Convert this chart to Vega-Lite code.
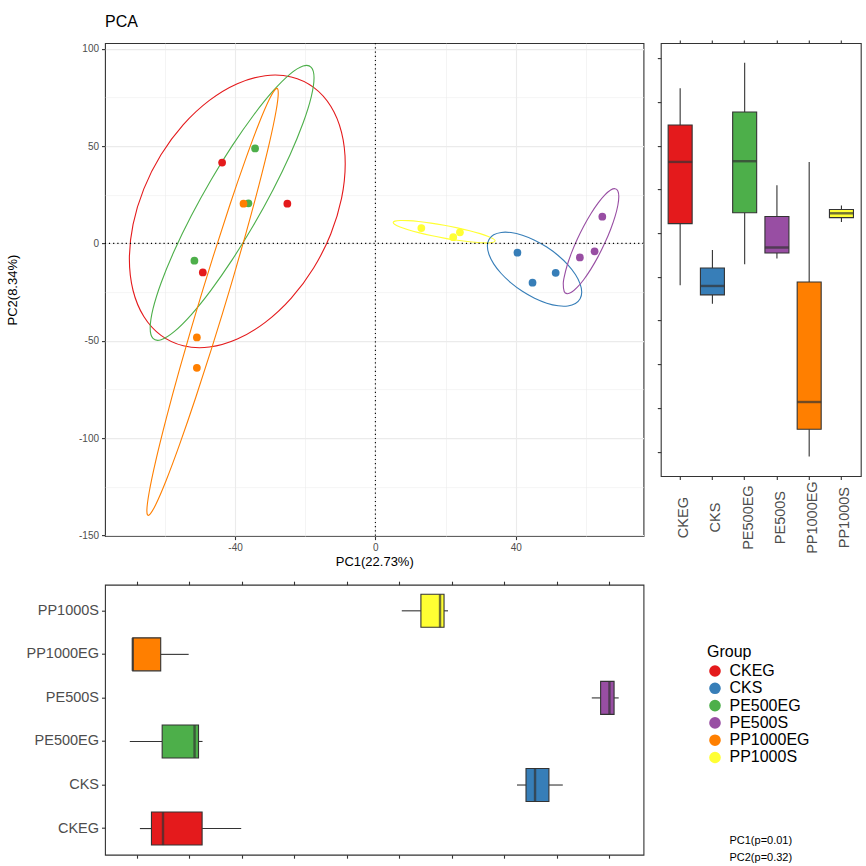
{
  "$schema": "https://vega.github.io/schema/vega-lite/v6.json",
  "padding": {"left": 5, "top": 13.1, "right": 5, "bottom": 5},
  "config": {
    "font": "Liberation Sans",
    "view": {"stroke": "#333333", "strokeWidth": 1.1},
    "axis": {"domain": false, "grid": false, "tickColor": "#333333", "tickWidth": 1.1, "labelColor": "#4D4D4D", "labelFont": "Liberation Sans", "titleColor": "black", "titleFontWeight": "normal", "titleFont": "Liberation Sans", "labelOverlap": false, "labelFlush": false},
    "title": {"font": "Liberation Sans"}
  },
  "datasets": {
    "points": [
      {"Group": "CKEG", "PC1": -43.7, "PC2": 41.5},
      {"Group": "CKEG", "PC1": -25.1, "PC2": 20.4},
      {"Group": "CKEG", "PC1": -49.2, "PC2": -14.9},
      {"Group": "CKS", "PC1": 40.5, "PC2": -4.8},
      {"Group": "CKS", "PC1": 44.8, "PC2": -20.2},
      {"Group": "CKS", "PC1": 51.4, "PC2": -15.1},
      {"Group": "PE500EG", "PC1": -34.3, "PC2": 48.8},
      {"Group": "PE500EG", "PC1": -36.2, "PC2": 20.6},
      {"Group": "PE500EG", "PC1": -51.6, "PC2": -8.9},
      {"Group": "PE500S", "PC1": 58.3, "PC2": -7.2},
      {"Group": "PE500S", "PC1": 62.5, "PC2": -4.1},
      {"Group": "PE500S", "PC1": 64.7, "PC2": 13.7},
      {"Group": "PP1000EG", "PC1": -37.6, "PC2": 20.4},
      {"Group": "PP1000EG", "PC1": -50.9, "PC2": -48.3},
      {"Group": "PP1000EG", "PC1": -50.9, "PC2": -63.9},
      {"Group": "PP1000S", "PC1": 13.1, "PC2": 7.9},
      {"Group": "PP1000S", "PC1": 22.2, "PC2": 3.2},
      {"Group": "PP1000S", "PC1": 24.1, "PC2": 5.7}
    ],
    "ellipses": [
      {"Group": "CKEG", "k": 0, "PC1": -8.6, "PC2": 40.94},
      {"Group": "CKEG", "k": 1, "PC1": -9.65, "PC2": 23.12},
      {"Group": "CKEG", "k": 2, "PC1": -12.72, "PC2": 4.86},
      {"Group": "CKEG", "k": 3, "PC1": -17.61, "PC2": -12.63},
      {"Group": "CKEG", "k": 4, "PC1": -23.98, "PC2": -28.12},
      {"Group": "CKEG", "k": 5, "PC1": -31.41, "PC2": -40.58},
      {"Group": "CKEG", "k": 6, "PC1": -39.37, "PC2": -49.16},
      {"Group": "CKEG", "k": 7, "PC1": -47.33, "PC2": -53.26},
      {"Group": "CKEG", "k": 8, "PC1": -54.76, "PC2": -52.62},
      {"Group": "CKEG", "k": 9, "PC1": -61.13, "PC2": -47.27},
      {"Group": "CKEG", "k": 10, "PC1": -66.02, "PC2": -37.58},
      {"Group": "CKEG", "k": 11, "PC1": -69.09, "PC2": -24.2},
      {"Group": "CKEG", "k": 12, "PC1": -70.14, "PC2": -8.06},
      {"Group": "CKEG", "k": 13, "PC1": -69.09, "PC2": 9.76},
      {"Group": "CKEG", "k": 14, "PC1": -66.02, "PC2": 28.02},
      {"Group": "CKEG", "k": 15, "PC1": -61.13, "PC2": 45.51},
      {"Group": "CKEG", "k": 16, "PC1": -54.76, "PC2": 61.0},
      {"Group": "CKEG", "k": 17, "PC1": -47.33, "PC2": 73.46},
      {"Group": "CKEG", "k": 18, "PC1": -39.37, "PC2": 82.04},
      {"Group": "CKEG", "k": 19, "PC1": -31.41, "PC2": 86.14},
      {"Group": "CKEG", "k": 20, "PC1": -23.98, "PC2": 85.5},
      {"Group": "CKEG", "k": 21, "PC1": -17.61, "PC2": 80.15},
      {"Group": "CKEG", "k": 22, "PC1": -12.72, "PC2": 70.46},
      {"Group": "CKEG", "k": 23, "PC1": -9.65, "PC2": 57.08},
      {"Group": "PE500EG", "k": 0, "PC1": -17.49, "PC2": 85.06},
      {"Group": "PE500EG", "k": 1, "PC1": -18.29, "PC2": 75.29},
      {"Group": "PE500EG", "k": 2, "PC1": -20.62, "PC2": 61.81},
      {"Group": "PE500EG", "k": 3, "PC1": -24.33, "PC2": 45.54},
      {"Group": "PE500EG", "k": 4, "PC1": -29.17, "PC2": 27.57},
      {"Group": "PE500EG", "k": 5, "PC1": -34.8, "PC2": 9.15},
      {"Group": "PE500EG", "k": 6, "PC1": -40.85, "PC2": -8.48},
      {"Group": "PE500EG", "k": 7, "PC1": -46.9, "PC2": -24.11},
      {"Group": "PE500EG", "k": 8, "PC1": -52.53, "PC2": -36.69},
      {"Group": "PE500EG", "k": 9, "PC1": -57.37, "PC2": -45.34},
      {"Group": "PE500EG", "k": 10, "PC1": -61.08, "PC2": -49.49},
      {"Group": "PE500EG", "k": 11, "PC1": -63.41, "PC2": -48.85},
      {"Group": "PE500EG", "k": 12, "PC1": -64.21, "PC2": -43.46},
      {"Group": "PE500EG", "k": 13, "PC1": -63.41, "PC2": -33.69},
      {"Group": "PE500EG", "k": 14, "PC1": -61.08, "PC2": -20.21},
      {"Group": "PE500EG", "k": 15, "PC1": -57.37, "PC2": -3.94},
      {"Group": "PE500EG", "k": 16, "PC1": -52.53, "PC2": 14.03},
      {"Group": "PE500EG", "k": 17, "PC1": -46.9, "PC2": 32.45},
      {"Group": "PE500EG", "k": 18, "PC1": -40.85, "PC2": 50.08},
      {"Group": "PE500EG", "k": 19, "PC1": -34.8, "PC2": 65.71},
      {"Group": "PE500EG", "k": 20, "PC1": -29.17, "PC2": 78.29},
      {"Group": "PE500EG", "k": 21, "PC1": -24.33, "PC2": 86.94},
      {"Group": "PE500EG", "k": 22, "PC1": -20.62, "PC2": 91.09},
      {"Group": "PE500EG", "k": 23, "PC1": -18.29, "PC2": 90.45},
      {"Group": "PP1000EG", "k": 0, "PC1": -27.69, "PC2": 77.31},
      {"Group": "PP1000EG", "k": 1, "PC1": -28.33, "PC2": 67.86},
      {"Group": "PP1000EG", "k": 2, "PC1": -30.2, "PC2": 51.73},
      {"Group": "PP1000EG", "k": 3, "PC1": -33.18, "PC2": 30.04},
      {"Group": "PP1000EG", "k": 4, "PC1": -37.05, "PC2": 4.26},
      {"Group": "PP1000EG", "k": 5, "PC1": -41.57, "PC2": -23.88},
      {"Group": "PP1000EG", "k": 6, "PC1": -46.42, "PC2": -52.42},
      {"Group": "PP1000EG", "k": 7, "PC1": -51.27, "PC2": -79.44},
      {"Group": "PP1000EG", "k": 8, "PC1": -55.79, "PC2": -103.1},
      {"Group": "PP1000EG", "k": 9, "PC1": -59.66, "PC2": -121.78},
      {"Group": "PP1000EG", "k": 10, "PC1": -62.64, "PC2": -134.21},
      {"Group": "PP1000EG", "k": 11, "PC1": -64.51, "PC2": -139.54},
      {"Group": "PP1000EG", "k": 12, "PC1": -65.15, "PC2": -137.41},
      {"Group": "PP1000EG", "k": 13, "PC1": -64.51, "PC2": -127.96},
      {"Group": "PP1000EG", "k": 14, "PC1": -62.64, "PC2": -111.83},
      {"Group": "PP1000EG", "k": 15, "PC1": -59.66, "PC2": -90.14},
      {"Group": "PP1000EG", "k": 16, "PC1": -55.79, "PC2": -64.36},
      {"Group": "PP1000EG", "k": 17, "PC1": -51.27, "PC2": -36.22},
      {"Group": "PP1000EG", "k": 18, "PC1": -46.42, "PC2": -7.68},
      {"Group": "PP1000EG", "k": 19, "PC1": -41.57, "PC2": 19.34},
      {"Group": "PP1000EG", "k": 20, "PC1": -37.05, "PC2": 43.0},
      {"Group": "PP1000EG", "k": 21, "PC1": -33.18, "PC2": 61.68},
      {"Group": "PP1000EG", "k": 22, "PC1": -30.2, "PC2": 74.11},
      {"Group": "PP1000EG", "k": 23, "PC1": -28.33, "PC2": 79.44},
      {"Group": "PP1000S", "k": 0, "PC1": 34.13, "PC2": 1.29},
      {"Group": "PP1000S", "k": 1, "PC1": 33.63, "PC2": 0.6},
      {"Group": "PP1000S", "k": 2, "PC1": 32.18, "PC2": 0.28},
      {"Group": "PP1000S", "k": 3, "PC1": 29.87, "PC2": 0.35},
      {"Group": "PP1000S", "k": 4, "PC1": 26.87, "PC2": 0.8},
      {"Group": "PP1000S", "k": 5, "PC1": 23.36, "PC2": 1.61},
      {"Group": "PP1000S", "k": 6, "PC1": 19.6, "PC2": 2.72},
      {"Group": "PP1000S", "k": 7, "PC1": 15.84, "PC2": 4.05},
      {"Group": "PP1000S", "k": 8, "PC1": 12.33, "PC2": 5.52},
      {"Group": "PP1000S", "k": 9, "PC1": 9.33, "PC2": 7.02},
      {"Group": "PP1000S", "k": 10, "PC1": 7.02, "PC2": 8.45},
      {"Group": "PP1000S", "k": 11, "PC1": 5.57, "PC2": 9.72},
      {"Group": "PP1000S", "k": 12, "PC1": 5.07, "PC2": 10.73},
      {"Group": "PP1000S", "k": 13, "PC1": 5.57, "PC2": 11.42},
      {"Group": "PP1000S", "k": 14, "PC1": 7.02, "PC2": 11.74},
      {"Group": "PP1000S", "k": 15, "PC1": 9.33, "PC2": 11.67},
      {"Group": "PP1000S", "k": 16, "PC1": 12.33, "PC2": 11.22},
      {"Group": "PP1000S", "k": 17, "PC1": 15.84, "PC2": 10.41},
      {"Group": "PP1000S", "k": 18, "PC1": 19.6, "PC2": 9.3},
      {"Group": "PP1000S", "k": 19, "PC1": 23.36, "PC2": 7.97},
      {"Group": "PP1000S", "k": 20, "PC1": 26.87, "PC2": 6.5},
      {"Group": "PP1000S", "k": 21, "PC1": 29.87, "PC2": 5.0},
      {"Group": "PP1000S", "k": 22, "PC1": 32.18, "PC2": 3.57},
      {"Group": "PP1000S", "k": 23, "PC1": 33.63, "PC2": 2.3},
      {"Group": "CKS", "k": 0, "PC1": 58.83, "PC2": -25.03},
      {"Group": "CKS", "k": 1, "PC1": 58.37, "PC2": -28.49},
      {"Group": "CKS", "k": 2, "PC1": 57.03, "PC2": -30.91},
      {"Group": "CKS", "k": 3, "PC1": 54.89, "PC2": -32.13},
      {"Group": "CKS", "k": 4, "PC1": 52.11, "PC2": -32.06},
      {"Group": "CKS", "k": 5, "PC1": 48.86, "PC2": -30.71},
      {"Group": "CKS", "k": 6, "PC1": 45.38, "PC2": -28.17},
      {"Group": "CKS", "k": 7, "PC1": 41.9, "PC2": -24.61},
      {"Group": "CKS", "k": 8, "PC1": 38.65, "PC2": -20.28},
      {"Group": "CKS", "k": 9, "PC1": 35.87, "PC2": -15.47},
      {"Group": "CKS", "k": 10, "PC1": 33.73, "PC2": -10.51},
      {"Group": "CKS", "k": 11, "PC1": 32.39, "PC2": -5.73},
      {"Group": "CKS", "k": 12, "PC1": 31.93, "PC2": -1.47},
      {"Group": "CKS", "k": 13, "PC1": 32.39, "PC2": 1.99},
      {"Group": "CKS", "k": 14, "PC1": 33.73, "PC2": 4.41},
      {"Group": "CKS", "k": 15, "PC1": 35.87, "PC2": 5.63},
      {"Group": "CKS", "k": 16, "PC1": 38.65, "PC2": 5.56},
      {"Group": "CKS", "k": 17, "PC1": 41.9, "PC2": 4.21},
      {"Group": "CKS", "k": 18, "PC1": 45.38, "PC2": 1.67},
      {"Group": "CKS", "k": 19, "PC1": 48.86, "PC2": -1.89},
      {"Group": "CKS", "k": 20, "PC1": 52.11, "PC2": -6.22},
      {"Group": "CKS", "k": 21, "PC1": 54.89, "PC2": -11.03},
      {"Group": "CKS", "k": 22, "PC1": 57.03, "PC2": -15.99},
      {"Group": "CKS", "k": 23, "PC1": 58.37, "PC2": -20.77},
      {"Group": "PE500S", "k": 0, "PC1": 69.4, "PC2": 24.05},
      {"Group": "PE500S", "k": 1, "PC1": 69.13, "PC2": 19.59},
      {"Group": "PE500S", "k": 2, "PC1": 68.34, "PC2": 13.87},
      {"Group": "PE500S", "k": 3, "PC1": 67.08, "PC2": 7.29},
      {"Group": "PE500S", "k": 4, "PC1": 65.44, "PC2": 0.28},
      {"Group": "PE500S", "k": 5, "PC1": 63.53, "PC2": -6.67},
      {"Group": "PE500S", "k": 6, "PC1": 61.48, "PC2": -13.08},
      {"Group": "PE500S", "k": 7, "PC1": 59.43, "PC2": -18.53},
      {"Group": "PE500S", "k": 8, "PC1": 57.52, "PC2": -22.64},
      {"Group": "PE500S", "k": 9, "PC1": 55.88, "PC2": -25.13},
      {"Group": "PE500S", "k": 10, "PC1": 54.62, "PC2": -25.83},
      {"Group": "PE500S", "k": 11, "PC1": 53.83, "PC2": -24.69},
      {"Group": "PE500S", "k": 12, "PC1": 53.56, "PC2": -20.66},
      {"Group": "PE500S", "k": 13, "PC1": 53.83, "PC2": -17.33},
      {"Group": "PE500S", "k": 14, "PC1": 54.62, "PC2": -11.61},
      {"Group": "PE500S", "k": 15, "PC1": 55.88, "PC2": -5.03},
      {"Group": "PE500S", "k": 16, "PC1": 57.52, "PC2": 1.98},
      {"Group": "PE500S", "k": 17, "PC1": 59.43, "PC2": 8.93},
      {"Group": "PE500S", "k": 18, "PC1": 61.48, "PC2": 15.34},
      {"Group": "PE500S", "k": 19, "PC1": 63.53, "PC2": 20.79},
      {"Group": "PE500S", "k": 20, "PC1": 65.44, "PC2": 24.9},
      {"Group": "PE500S", "k": 21, "PC1": 67.08, "PC2": 27.39},
      {"Group": "PE500S", "k": 22, "PC1": 68.34, "PC2": 28.09},
      {"Group": "PE500S", "k": 23, "PC1": 69.13, "PC2": 26.95}
    ]
  },
  "columns": 2,
  "spacing": {"row": 48.6, "column": 16.8},
  "bounds": "flush",
  "align": "each",
  "resolve": {"legend": {"color": "independent"}},
  "concat": [
    {
      "width": 538.5,
      "height": 493,
      "title": {"text": "PCA", "anchor": "start", "frame": "group", "fontSize": 16, "fontWeight": "normal", "color": "black", "offset": 12.2},
      "layer": [
        {
          "data": {"name": "ellipses"},
          "mark": {"type": "line", "interpolate": "cardinal-closed", "strokeWidth": 1.1},
          "encoding": {
            "x": {"field": "PC1", "type": "quantitative", "scale": {"domain": [-77.09, 76.44], "nice": false, "zero": false},
              "axis": {"values": [-60, -40, -20, 0, 20, 40, 60], "labelExpr": "datum.value % 40 === 0 ? toString(datum.value) : ''", "tickOpacity": {"condition": {"test": "datum.value % 40 === 0", "value": 1}, "value": 0}, "grid": true, "gridColor": "#EBEBEB", "gridWidth": {"condition": {"test": "datum.value % 40 === 0", "value": 1.1}, "value": 0.55}, "title": "PC1(22.73%)", "titleFontSize": 13, "titlePadding": 3, "labelFontSize": 10, "tickSize": 3.5, "labelPadding": 3}},
            "y": {"field": "PC2", "type": "quantitative", "scale": {"domain": [-150.36, 102.88], "nice": false, "zero": false},
              "axis": {"values": [-150, -125, -100, -75, -50, -25, 0, 25, 50, 75, 100], "labelExpr": "datum.value % 50 === 0 ? toString(datum.value) : ''", "tickOpacity": {"condition": {"test": "datum.value % 50 === 0", "value": 1}, "value": 0}, "grid": true, "gridColor": "#EBEBEB", "gridWidth": {"condition": {"test": "datum.value % 50 === 0", "value": 1.1}, "value": 0.55}, "title": "PC2(8.34%)", "titleFontSize": 13, "titlePadding": 59, "labelFontSize": 10, "tickSize": 3.5, "labelPadding": 3}},
            "color": {"field": "Group", "type": "nominal", "scale": {"domain": ["CKEG", "CKS", "PE500EG", "PE500S", "PP1000EG", "PP1000S"], "range": ["#E41A1C", "#377EB8", "#4DAF4A", "#984EA3", "#FF7F00", "#FFFF33"]}, "legend": null},
            "order": {"field": "k", "type": "quantitative"}
          }
        },
        {
          "data": {"values": [{}]},
          "mark": {"type": "rule", "strokeDash": [1.2, 3], "color": "black", "strokeWidth": 1.1},
          "encoding": {"x": {"datum": 0}}
        },
        {
          "data": {"values": [{}]},
          "mark": {"type": "rule", "strokeDash": [1.2, 3], "color": "black", "strokeWidth": 1.1},
          "encoding": {"y": {"datum": 0}}
        },
        {
          "data": {"name": "points"},
          "mark": {"type": "circle", "size": 60, "opacity": 1},
          "encoding": {
            "x": {"field": "PC1", "type": "quantitative"},
            "y": {"field": "PC2", "type": "quantitative"},
            "color": {"field": "Group", "type": "nominal", "scale": {"domain": ["CKEG", "CKS", "PE500EG", "PE500S", "PP1000EG", "PP1000S"], "range": ["#E41A1C", "#377EB8", "#4DAF4A", "#984EA3", "#FF7F00", "#FFFF33"]}, "legend": null}
          }
        }
      ]
    },
    {
      "width": 200,
      "height": 433,
      "data": {"name": "points"},
      "layer": [
        {
          "mark": {"type": "boxplot", "extent": "min-max", "size": 24, "ticks": false, "box": {"stroke": "#333333", "strokeWidth": 1.1}, "median": {"color": "#333333", "thickness": 2.4}, "rule": {"color": "#333333", "strokeWidth": 1.1}},
          "encoding": {
            "x": {"field": "Group", "type": "nominal", "scale": {"paddingInner": 0, "paddingOuter": 0.1}, "axis": {"title": null, "labelAngle": 270, "labelAlign": "center", "labelBaseline": "middle", "labelPadding": 37.5, "labelFontSize": 14.5, "tickSize": 3.5, "labelOffset": 4}},
            "y": {"field": "PC2", "type": "quantitative", "scale": {"domain": [-69.5, 54.4], "nice": false, "zero": false}, "axis": {"values": [-62.5, -50, -37.5, -25, -12.5, 0, 12.5, 25, 37.5, 50], "labels": false, "title": null, "tickSize": 3.5}},
            "color": {"field": "Group", "type": "nominal", "scale": {"domain": ["CKEG", "CKS", "PE500EG", "PE500S", "PP1000EG", "PP1000S"], "range": ["#E41A1C", "#377EB8", "#4DAF4A", "#984EA3", "#FF7F00", "#FFFF33"]}, "legend": null}
          }
        },
        {
          "mark": {"type": "point", "opacity": 0},
          "encoding": {
            "x": {"field": "Group", "type": "nominal", "axis": {"orient": "top", "labels": false, "title": null, "tickSize": 3}}
          }
        }
      ],
      "resolve": {"axis": {"x": "independent"}}
    },
    {
      "width": 538.5,
      "height": 270,
      "data": {"name": "points"},
      "layer": [
        {
          "mark": {"type": "boxplot", "extent": "min-max", "size": 33, "ticks": false, "box": {"stroke": "#333333", "strokeWidth": 1.1}, "median": {"color": "#333333", "thickness": 2.4}, "rule": {"color": "#333333", "strokeWidth": 1.1}},
          "encoding": {
            "y": {"field": "Group", "type": "nominal", "sort": "descending", "scale": {"paddingInner": 0, "paddingOuter": 0.1}, "axis": {"title": null, "labelFontSize": 14.5, "tickSize": 3.5, "labelPadding": 3}},
            "x": {"field": "PC1", "type": "quantitative", "scale": {"domain": [-57.5, 70.6], "nice": false, "zero": false}, "axis": {"values": [-50, -37.5, -25, -12.5, 0, 12.5, 25, 37.5, 50, 62.5], "labels": false, "title": null, "tickSize": 3.5}},
            "color": {"field": "Group", "type": "nominal", "scale": {"domain": ["CKEG", "CKS", "PE500EG", "PE500S", "PP1000EG", "PP1000S"], "range": ["#E41A1C", "#377EB8", "#4DAF4A", "#984EA3", "#FF7F00", "#FFFF33"]},
              "legend": {"orient": "none", "legendX": 602, "legendY": 59, "title": "Group", "titleFontSize": 16, "titleFontWeight": "normal", "titleColor": "black", "titlePadding": 3.3, "labelFontSize": 16, "labelColor": "black", "symbolType": "circle", "symbolSize": 135, "symbolStrokeWidth": 0, "symbolOpacity": 1, "rowPadding": 1.3, "labelOffset": 6.5, "padding": 0}}
          }
        },
        {
          "mark": {"type": "point", "opacity": 0},
          "encoding": {
            "x": {"field": "PC1", "type": "quantitative", "axis": {"orient": "top", "values": [-50, -37.5, -25, -12.5, 0, 12.5, 25, 37.5, 50, 62.5], "labels": false, "title": null, "tickSize": 3.5}}
          }
        }
      ],
      "resolve": {"axis": {"x": "independent"}}
    },
    {
      "width": 200,
      "height": 270,
      "view": {"stroke": null},
      "data": {"values": [{"lines": ["PC1(p=0.01)", "PC2(p=0.32)"]}]},
      "mark": {"type": "text", "fontSize": 11, "baseline": "middle", "lineHeight": 17, "dy": -14, "color": "black"},
      "encoding": {
        "y": {"value": "height"},
        "text": {"field": "lines"}
      }
    }
  ]
}
